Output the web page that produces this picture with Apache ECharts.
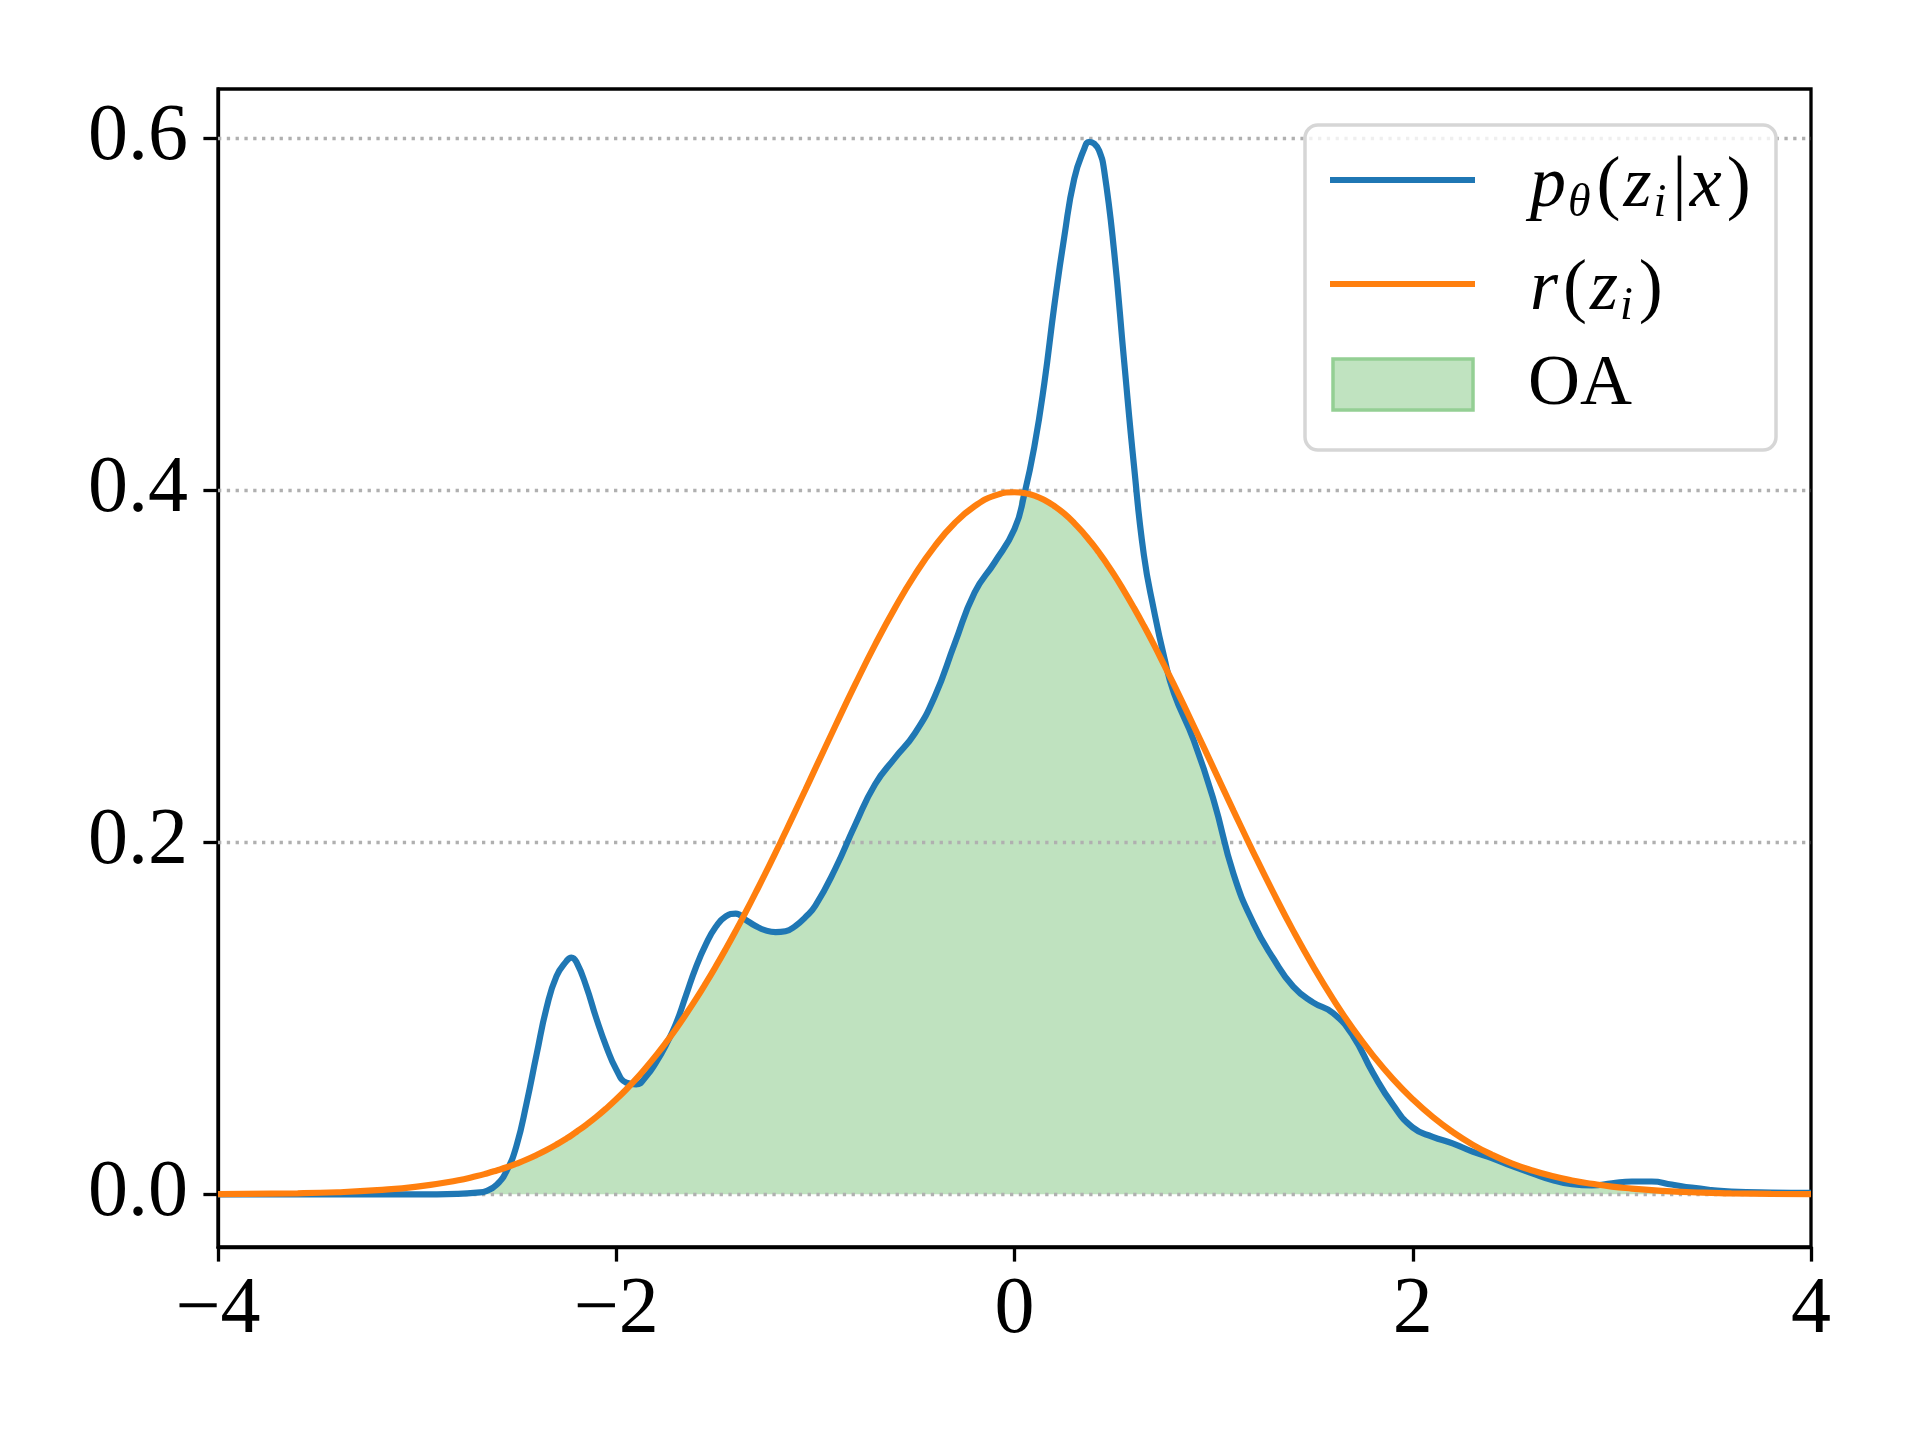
<!DOCTYPE html>
<html>
<head>
<meta charset="utf-8">
<script src="https://cdn.jsdelivr.net/npm/echarts@6/dist/echarts.min.js"></script>
<style>
  html, body { margin: 0; padding: 0; background: #ffffff; }
  #chart { width: 1920px; height: 1440px; }
</style>
</head>
<body>
<div id="chart"></div>
<script>
// ---- data ----
const xs = [-4.0, -3.6, -3.4, -3.2, -3.0, -2.8, -2.7, -2.65, -2.6, -2.55, -2.5, -2.45, -2.4, -2.35, -2.3, -2.25, -2.225, -2.2, -2.15, -2.1, -2.05, -2.0, -1.95, -1.9, -1.85, -1.8, -1.75, -1.7, -1.65, -1.6, -1.55, -1.5, -1.45, -1.4, -1.35, -1.3, -1.25, -1.2, -1.15, -1.1, -1.05, -1.0, -0.9, -0.8, -0.7, -0.6, -0.5, -0.4, -0.3, -0.2, -0.1, 0.0, 0.05, 0.1, 0.15, 0.2, 0.25, 0.3, 0.35, 0.375, 0.4, 0.425, 0.45, 0.5, 0.55, 0.6, 0.65, 0.7, 0.75, 0.8, 0.9, 1.0, 1.1, 1.2, 1.3, 1.4, 1.5, 1.6, 1.7, 1.8, 1.9, 2.0, 2.1, 2.2, 2.3, 2.4, 2.5, 2.6, 2.7, 2.8, 2.9, 3.0, 3.1, 3.2, 3.3, 3.4, 3.5, 3.6, 3.8, 4.0];

// p_theta(z_i|x)
const pTheta = [0, 0, 0, 0, 0, 0.0003, 0.001, 0.002, 0.0055, 0.0135, 0.028, 0.052, 0.0795, 0.106, 0.124, 0.1325, 0.1345, 0.132, 0.118, 0.100, 0.084, 0.071, 0.0635, 0.0625, 0.067, 0.075, 0.085, 0.097, 0.113, 0.129, 0.142, 0.152, 0.158, 0.1595, 0.156, 0.1525, 0.150, 0.149, 0.1495, 0.1525, 0.1575, 0.164, 0.185, 0.210, 0.233, 0.248, 0.262, 0.283, 0.313, 0.342, 0.359, 0.378, 0.398, 0.425, 0.461, 0.505, 0.544, 0.577, 0.594, 0.598, 0.597, 0.593, 0.582, 0.536, 0.474, 0.414, 0.363, 0.332, 0.306, 0.285, 0.258, 0.224, 0.182, 0.154, 0.134, 0.118, 0.109, 0.103, 0.090, 0.069, 0.051, 0.038, 0.0327, 0.029, 0.0243, 0.0205, 0.016, 0.012, 0.0082, 0.0058, 0.0051, 0.0063, 0.0073, 0.0073, 0.0056, 0.0038, 0.0025, 0.0016, 0.001, 0.0008];

// r(z_i)
const rPrior = [0.0001, 0.0006, 0.0012, 0.0024, 0.0044, 0.0079, 0.0104, 0.0119, 0.0136, 0.0154, 0.0175, 0.0198, 0.0224, 0.0252, 0.0283, 0.0317, 0.0335, 0.0355, 0.0396, 0.0440, 0.0488, 0.0540, 0.0596, 0.0656, 0.0721, 0.0790, 0.0863, 0.0940, 0.1023, 0.1109, 0.1200, 0.1295, 0.1394, 0.1497, 0.1604, 0.1714, 0.1826, 0.1942, 0.2059, 0.2179, 0.2299, 0.2420, 0.2661, 0.2897, 0.3123, 0.3332, 0.3521, 0.3683, 0.3814, 0.3910, 0.3970, 0.3989, 0.3984, 0.3970, 0.3945, 0.3910, 0.3867, 0.3814, 0.3752, 0.3718, 0.3683, 0.3645, 0.3605, 0.3521, 0.3429, 0.3332, 0.3230, 0.3123, 0.3011, 0.2897, 0.2661, 0.2420, 0.2179, 0.1942, 0.1714, 0.1497, 0.1295, 0.1109, 0.0940, 0.0790, 0.0656, 0.0540, 0.0440, 0.0355, 0.0283, 0.0224, 0.0175, 0.0136, 0.0104, 0.0079, 0.0060, 0.0044, 0.0033, 0.0024, 0.0017, 0.0012, 0.0009, 0.0006, 0.0003, 0.0001];

const xTicks = [-4, -2, 0, 2, 4];
const yTicks = [0.0, 0.2, 0.4, 0.6];
const seriesNames = ['p_theta', 'r', 'OA'];

// ---- build series data ----
const blueData = xs.map((x, i) => [x, pTheta[i]]);
const orangeData = xs.map((x, i) => [x, rPrior[i]]);
const overlapData = xs.map((x, i) => [x, Math.min(pTheta[i], rPrior[i])]);

const FONT = '"Liberation Serif", "DejaVu Serif", serif';
const chart = echarts.init(document.getElementById('chart'), null, { renderer: 'canvas' });

const fmtX = v => (v < 0 ? '\u2212' : '') + Math.abs(v);
const fmtY = v => Number(v).toFixed(1);
const SMOOTH = 0.5;

const option = {
  backgroundColor: '#ffffff',
  animation: false,
  grid: {
    left: 218, right: 109, top: 89, bottom: 193,
    show: true, borderColor: '#000000', borderWidth: 3.3, backgroundColor: 'transparent'
  },
  xAxis: {
    type: 'value', min: -4, max: 4, interval: 2,
    axisLine: { show: true, onZero: false, lineStyle: { color: '#000', width: 3.3 } },
    axisTick: { show: true, inside: false, length: 14.6, lineStyle: { color: '#000', width: 3.3 } },
    axisLabel: { show: true, margin: 24, color: '#000', fontFamily: FONT, fontSize: 80, formatter: fmtX },
    splitLine: { show: false }
  },
  yAxis: {
    type: 'value', min: -0.0299, max: 0.628,
    axisLine: { show: true, onZero: false, lineStyle: { color: '#000', width: 3.3 } },
    axisTick: { show: true, inside: false, length: 14.6, customValues: yTicks, lineStyle: { color: '#000', width: 3.3 } },
    axisLabel: { show: true, margin: 30, color: '#000', fontFamily: FONT, fontSize: 80, customValues: yTicks, formatter: fmtY },
    splitLine: { show: false }
  },
  series: [
    {
      name: seriesNames[2], type: 'line', data: overlapData, z: 1,
      showSymbol: false, smooth: SMOOTH,
      lineStyle: { color: '#2ca02c', width: 1, opacity: 0.3 },
      areaStyle: { color: '#2ca02c', opacity: 0.3 },
      markLine: {
        silent: true, symbol: 'none', z: 3, animation: false,
        label: { show: false },
        lineStyle: { color: '#b0b0b0', width: 3.3, type: [3.3, 5.5] },
        data: yTicks.map(v => ({ yAxis: v }))
      }
    },
    {
      name: seriesNames[0], type: 'line', data: blueData, z: 10,
      showSymbol: false, smooth: SMOOTH,
      lineStyle: { color: '#1f77b4', width: 6.2 }
    },
    {
      name: seriesNames[1], type: 'line', data: orangeData, z: 11,
      showSymbol: false, smooth: SMOOTH,
      lineStyle: { color: '#ff7f0e', width: 6.2 }
    }
  ],
  graphic: [
    {
      type: 'rect', z: 100,
      shape: { x: 1305, y: 125, width: 471, height: 325, r: 13 },
      style: { fill: 'rgba(255,255,255,0.8)', stroke: '#d6d6d6', lineWidth: 3.5 }
    },
    {
      type: 'line', z: 101,
      shape: { x1: 1330, y1: 180, x2: 1475, y2: 180 },
      style: { stroke: '#1f77b4', lineWidth: 6.2 }
    },
    {
      type: 'line', z: 101,
      shape: { x1: 1330, y1: 284, x2: 1475, y2: 284 },
      style: { stroke: '#ff7f0e', lineWidth: 6.2 }
    },
    {
      type: 'rect', z: 101,
      shape: { x: 1333, y: 359, width: 140, height: 51 },
      style: { fill: '#c0e3c0', stroke: '#94cf94', lineWidth: 3.5 }
    },
    {
      type: 'text', z: 101,
      style: {
        x: 1530, y: 187, align: 'left', verticalAlign: 'middle',
        text: '{p|p}{s|\u03b8}{n|(}{p|z}{s|i}{n||}{p|x}{n|)}',
        rich: {
          p: { fontFamily: FONT, fontStyle: 'italic', fontSize: 72, lineHeight: 80, fill: '#000', padding: [0, 2, 0, 0] },
          s: { fontFamily: FONT, fontStyle: 'italic', fontSize: 46, lineHeight: 48, verticalAlign: 'bottom', fill: '#000', padding: [0, 3, 0, 0] },
          n: { fontFamily: FONT, fontSize: 72, lineHeight: 80, fill: '#000', padding: [0, 3, 0, 3] }
        }
      }
    },
    {
      type: 'text', z: 101,
      style: {
        x: 1530, y: 290, align: 'left', verticalAlign: 'middle',
        text: '{p|r}{n|(}{p|z}{s|i}{n|)}',
        rich: {
          p: { fontFamily: FONT, fontStyle: 'italic', fontSize: 72, lineHeight: 80, fill: '#000', padding: [0, 2, 0, 0] },
          s: { fontFamily: FONT, fontStyle: 'italic', fontSize: 46, lineHeight: 48, verticalAlign: 'bottom', fill: '#000', padding: [0, 3, 0, 0] },
          n: { fontFamily: FONT, fontSize: 72, lineHeight: 80, fill: '#000', padding: [0, 3, 0, 3] }
        }
      }
    },
    {
      type: 'text', z: 101,
      style: {
        x: 1528, y: 385, align: 'left', verticalAlign: 'middle',
        text: 'OA', fontFamily: FONT, fontSize: 72, fill: '#000'
      }
    }
  ]
};
chart.setOption(option);
</script>
</body>
</html>
